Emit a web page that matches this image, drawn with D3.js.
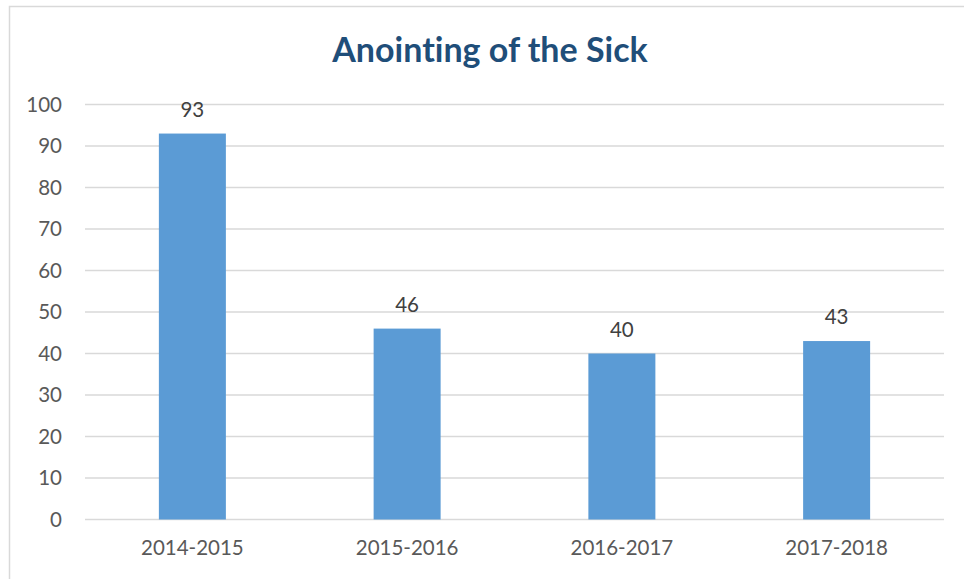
<!DOCTYPE html>
<html>
<head>
<meta charset="utf-8">
<script src="https://cdn.jsdelivr.net/npm/d3@7"></script>
<style>
  body { margin: 0; background: #fff; }
  svg { display: block; }
  text { font-variant-ligatures: none; }
</style>
</head>
<body>
<svg id="chart" width="964" height="579"></svg>
<script>
'use strict';

// data
const categories = ["2014-2015", "2015-2016", "2016-2017", "2017-2018"];
const values = [93, 46, 40, 43];
const yTicks = [0, 10, 20, 30, 40, 50, 60, 70, 80, 90, 100];
const title = "Anointing of the Sick";

const svg = d3.select("#chart");
const width = 964;
const height = 579;
const margin = {top: 104.5, right: 20, bottom: 59.5, left: 85};
const font = "Lato, 'Open Sans', sans-serif";

// chart frame (runs off the right and bottom edges)
svg.append("rect")
	.attr("x", 9.5).attr("y", 6.5)
	.attr("width", 1000).attr("height", 1000)
	.attr("fill", "#fff")
	.attr("stroke", "#d9d9d9")
	.attr("stroke-width", 1.5);

const x = d3.scaleBand()
	.domain(categories)
	.range([margin.left, width - margin.right])
	.paddingInner(0.688)
	.paddingOuter(0.344);

const y = d3.scaleLinear()
	.domain([0, 100])
	.range([height - margin.bottom, margin.top]);

// gridlines
svg.append("g")
	.selectAll("line")
	.data(yTicks)
	.join("line")
	.attr("x1", margin.left)
	.attr("x2", width - margin.right)
	.attr("y1", d => y(d))
	.attr("y2", d => y(d))
	.attr("stroke", "#d9d9d9")
	.attr("stroke-width", 1.3);

// y axis labels
const yAxis = svg.append("g")
	.attr("transform", `translate(${margin.left},0)`)
	.call(d3.axisLeft(y).tickValues(yTicks).tickSize(0).tickPadding(23));
yAxis.select(".domain").remove();
yAxis.selectAll("text")
	.attr("font-family", font)
	.attr("font-size", 20.5)
	.attr("fill", "#595959");

// x axis labels
const xAxis = svg.append("g")
	.attr("transform", `translate(0,${y(0)})`)
	.call(d3.axisBottom(x).tickSize(0).tickPadding(21));
xAxis.select(".domain").remove();
xAxis.selectAll("text")
	.attr("font-family", font)
	.attr("font-size", 20.5)
	.attr("fill", "#595959");

// bars
svg.append("g")
	.selectAll("rect")
	.data(values)
	.join("rect")
	.attr("x", (d, i) => x(categories[i]))
	.attr("y", d => y(d))
	.attr("width", x.bandwidth())
	.attr("height", d => y(0) - y(d))
	.attr("fill", "#5b9bd5");

// data labels
svg.append("g")
	.selectAll("text")
	.data(values)
	.join("text")
	.attr("x", (d, i) => x(categories[i]) + x.bandwidth() / 2)
	.attr("y", d => y(d) - 17)
	.attr("text-anchor", "middle")
	.attr("font-family", font)
	.attr("font-size", 20.5)
	.attr("fill", "#404040")
	.text(d => d);

// title
svg.append("text")
	.attr("x", 490)
	.attr("y", 62)
	.attr("text-anchor", "middle")
	.attr("font-family", font)
	.attr("font-weight", "bold")
	.attr("font-size", 34)
	.attr("fill", "#1f4e79")
	.text(title);
</script>
</body>
</html>
